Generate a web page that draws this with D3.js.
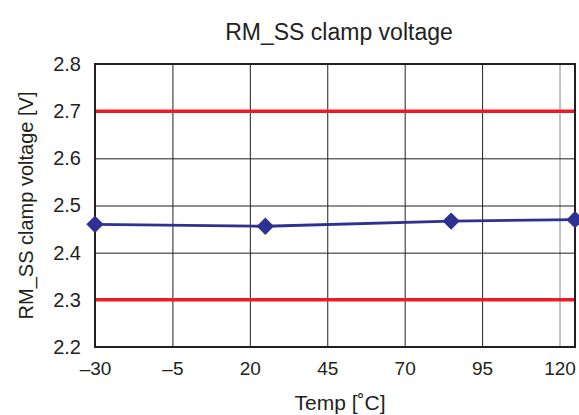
<!DOCTYPE html>
<html>
<head>
<meta charset="utf-8">
<script src="https://cdn.jsdelivr.net/npm/d3@7"></script>
<style>
  body { margin: 0; background: #fff; }
  text { font-family: "Liberation Sans", Arial, sans-serif; fill: #231f20; }
</style>
</head>
<body>
<div id="chart"></div>
<script>
// data
var temps = [-30, 25, 85, 125];
var clampVolts = [2.46, 2.456, 2.467, 2.47];
var limitVolts = [2.3, 2.7];
var xTicks = [-30, -5, 20, 45, 70, 95, 120];
var yTicks = [2.2, 2.3, 2.4, 2.5, 2.6, 2.7, 2.8];

var svgWidth = 579, svgHeight = 415;
var margin = { top: 64, right: 4, bottom: 68, left: 95 };
var width = svgWidth - margin.left - margin.right;
var height = svgHeight - margin.top - margin.bottom;

var svg = d3.select("#chart").append("svg").attr("width", svgWidth).attr("height", svgHeight);
var chartGroup = svg.append("g").attr("transform", `translate(${margin.left}, ${margin.top})`);

var x = d3.scaleLinear().domain([-30, 125]).range([0, width]);
var y = d3.scaleLinear().domain([2.2, 2.8]).range([height, 0]);

// grid
chartGroup.append("g").attr("transform", `translate(0, ${height})`)
  .call(d3.axisBottom(x).tickValues(xTicks.slice(1)).tickSize(-height).tickFormat(""))
  .call(g => g.select(".domain").remove())
  .selectAll("line").attr("stroke", (d) => d === 120 ? "#888" : "#231f20").attr("stroke-width", 1);
chartGroup.append("g")
  .call(d3.axisLeft(y).tickValues(yTicks.slice(1, -1)).tickSize(-width).tickFormat(""))
  .call(g => g.select(".domain").remove())
  .selectAll("line").attr("stroke", "#231f20").attr("stroke-width", 1);

// limit lines
chartGroup.selectAll(".limit").data(limitVolts).enter().append("line")
  .attr("class", "limit")
  .attr("x1", 0).attr("x2", width)
  .attr("y1", d => y(d)).attr("y2", d => y(d))
  .attr("stroke", "#ed1c24").attr("stroke-width", 3.5);

// frame
chartGroup.append("rect").attr("width", width).attr("height", height)
  .attr("fill", "none").attr("stroke", "#231f20").attr("stroke-width", 2);

// tick labels
var bottomAxis = d3.axisBottom(x).tickValues(xTicks).tickSize(0).tickPadding(15)
  .tickFormat(d => d < 0 ? "\u2013" + Math.abs(d) : d);
var xg = chartGroup.append("g").attr("transform", `translate(0, ${height})`).call(bottomAxis);
xg.select(".domain").remove();
xg.selectAll("text").style("font-size", "19px").attr("fill", "#231f20");

var leftAxis = d3.axisLeft(y).tickValues(yTicks).tickSize(0).tickPadding(14).tickFormat(d3.format(".1f"));
var yg = chartGroup.append("g").call(leftAxis);
yg.select(".domain").remove();
yg.selectAll("text").style("font-size", "20px").attr("fill", "#231f20");

// series
var points = temps.map((t, i) => ({ t: t, v: clampVolts[i] }));
chartGroup.append("path").datum(points)
  .attr("fill", "none").attr("stroke", "#2e3192").attr("stroke-width", 2.8)
  .attr("d", d3.line().x(d => x(d.t)).y(d => y(d.v)));
chartGroup.selectAll(".pt").data(points).enter().append("path")
  .attr("class", "pt")
  .attr("transform", d => `translate(${x(d.t)}, ${y(d.v)}) rotate(45)`)
  .attr("d", d3.symbol().type(d3.symbolSquare).size(150))
  .attr("fill", "#2e3192");

// titles
svg.append("text").attr("x", 339).attr("y", 40).attr("text-anchor", "middle")
  .style("font-size", "23px").text("RM_SS clamp voltage");
svg.append("text").attr("x", 340).attr("y", 410).attr("text-anchor", "middle")
  .style("font-size", "21px").text("Temp [\u02DAC]");
svg.append("text").attr("transform", `translate(33, ${margin.top + height / 2}) rotate(-90)`)
  .attr("text-anchor", "middle").style("font-size", "20px").text("RM_SS clamp voltage [V]");
</script>
</body>
</html>
